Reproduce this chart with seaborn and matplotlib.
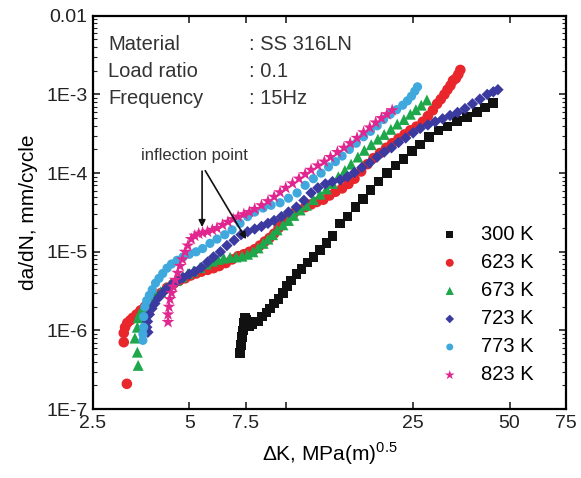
import numpy as np
import pandas as pd
import matplotlib
matplotlib.use("Agg")
from matplotlib import pyplot as plt
import seaborn as sns

# da/dN vs dK data
temps = ['300 K', '623 K', '673 K', '723 K', '773 K', '823 K']

dk_300 = [7.2, 7.25, 7.3, 7.35, 7.4, 7.45, 7.55, 7.7, 7.85, 8.0, 8.2, 8.45, 8.7, 8.95, 9.2,
          9.5, 9.8, 10.1, 10.4, 10.8, 11.2, 11.7, 12.2, 12.8, 13.4, 14.0, 14.8, 15.6, 16.5,
          17.4, 18.4, 19.5, 20.7, 22.0, 23.3, 24.8, 26.3, 28.0, 30.0, 32.0, 34.3, 36.8,
          39.5, 42.0, 44.5]
da_300 = [5.2e-7, 6.5e-7, 8.2e-7, 1.0e-6, 1.25e-6, 1.45e-6, 1.35e-6, 1.15e-6, 1.2e-6, 1.3e-6,
          1.3e-6, 1.5e-6, 1.7e-6, 1.9e-6, 2.2e-6, 2.5e-6, 3.0e-6, 3.7e-6, 4.3e-6, 5.2e-6,
          6.0e-6, 7.3e-6, 8.6e-6, 1.05e-5, 1.3e-5, 1.6e-5, 2.3e-5, 2.8e-5, 3.7e-5, 4.7e-5,
          6.1e-5, 7.8e-5, 1.0e-4, 1.25e-4, 1.5e-4, 1.9e-4, 2.3e-4, 2.9e-4, 3.5e-4, 3.9e-4,
          4.6e-4, 5.2e-4, 6.0e-4, 6.8e-4, 7.8e-4]

dk_623 = [3.19, 3.12, 3.12, 3.15, 3.2, 3.27, 3.33, 3.42, 3.52, 3.63, 3.77, 3.92, 4.08, 4.26,
          4.45, 4.65, 4.85, 5.05, 5.25, 5.45, 5.7, 5.95, 6.2, 6.5, 6.8, 7.1, 7.4, 7.7, 8.0,
          8.3, 8.6, 8.9, 9.2, 9.5, 9.8, 10.2, 10.6, 11.0, 11.5, 12.0, 12.5, 13.1, 13.7, 14.3,
          15.0, 15.7, 16.4, 17.2, 18.0, 18.8, 19.7, 20.6, 21.5, 22.5, 23.5, 24.5, 25.6, 26.8,
          27.8, 28.8, 29.7, 30.5, 31.3, 32.0, 32.7, 33.3, 34.0, 34.6, 35.1]
da_623 = [2.1e-7, 7.1e-7, 9.3e-7, 1.1e-6, 1.25e-6, 1.35e-6, 1.45e-6, 1.6e-6, 1.8e-6, 2.0e-6,
          2.25e-6, 2.6e-6, 3.0e-6, 3.5e-6, 3.9e-6, 4.3e-6, 4.6e-6, 5.0e-6, 5.3e-6, 5.6e-6,
          5.9e-6, 6.2e-6, 6.6e-6, 7.2e-6, 8.0e-6, 8.8e-6, 9.3e-6, 1.0e-5, 1.08e-5, 1.2e-5,
          1.35e-5, 1.5e-5, 1.7e-5, 2.0e-5, 2.4e-5, 2.8e-5, 3.1e-5, 3.4e-5, 3.7e-5, 4.0e-5,
          4.3e-5, 4.6e-5, 5.2e-5, 5.8e-5, 6.4e-5, 7.3e-5, 8.5e-5, 1.05e-4, 1.3e-4, 1.55e-4,
          1.8e-4, 2.1e-4, 2.4e-4, 2.75e-4, 3.1e-4, 3.5e-4, 3.9e-4, 4.5e-4, 5.3e-4, 6.3e-4,
          7.6e-4, 8.7e-4, 1.0e-3, 1.15e-3, 1.3e-3, 1.5e-3, 1.6e-3, 1.8e-3, 2.05e-3]

dk_673 = [3.46, 3.44, 3.38, 3.44, 3.46, 3.5, 3.58, 3.68, 3.8, 3.93, 4.07, 4.22, 4.38, 4.55,
          4.75, 4.95, 5.15, 5.4, 5.65, 5.9, 6.15, 6.4, 6.7, 7.0, 7.3, 7.6, 7.9, 8.2, 8.5, 8.8,
          9.1, 9.4, 9.8, 10.2, 10.6, 11.1, 11.6, 12.2, 12.8, 13.4, 14.0, 14.6, 15.3, 16.0,
          16.8, 17.6, 18.5, 19.4, 20.3, 21.3, 22.3, 23.4, 24.5, 25.5, 26.5, 27.6]
da_673 = [3.6e-7, 5.3e-7, 8.0e-7, 1.1e-6, 1.45e-6, 1.65e-6, 1.9e-6, 2.2e-6, 2.5e-6, 2.8e-6,
          3.1e-6, 3.5e-6, 3.9e-6, 4.3e-6, 4.8e-6, 5.3e-6, 5.7e-6, 6.3e-6, 7.0e-6, 7.6e-6,
          8.0e-6, 8.3e-6, 8.5e-6, 8.6e-6, 8.8e-6, 9.3e-6, 1.0e-5, 1.12e-5, 1.28e-5, 1.45e-5,
          1.65e-5, 1.9e-5, 2.2e-5, 2.5e-5, 2.9e-5, 3.4e-5, 3.9e-5, 4.6e-5, 5.4e-5, 6.3e-5,
          7.4e-5, 9.0e-5, 1.08e-4, 1.3e-4, 1.6e-4, 1.95e-4, 2.3e-4, 2.7e-4, 3.1e-4, 3.6e-4,
          4.2e-4, 4.8e-4, 5.6e-4, 6.4e-4, 7.3e-4, 8.5e-4]

dk_723 = [3.71, 3.68, 3.7, 3.75, 3.82, 3.9, 4.0, 4.12, 4.25, 4.4, 4.58, 4.78, 5.0, 5.2, 5.45,
          5.7, 5.95, 6.25, 6.55, 6.9, 7.25, 7.6, 8.0, 8.4, 8.8, 9.2, 9.7, 10.2, 10.8, 11.4,
          12.0, 12.6, 13.3, 14.0, 14.8, 15.6, 16.4, 17.3, 18.3, 19.3, 20.3, 21.4, 22.5, 23.7,
          25.0, 26.3, 27.8, 29.3, 30.9, 32.6, 34.4, 36.3, 38.3, 40.4, 42.6, 44.5, 46.0]
da_723 = [9.5e-7, 1.1e-6, 1.3e-6, 1.6e-6, 1.9e-6, 2.2e-6, 2.6e-6, 3.0e-6, 3.4e-6, 3.8e-6,
          4.2e-6, 4.7e-6, 5.2e-6, 5.6e-6, 6.3e-6, 7.4e-6, 8.6e-6, 1.0e-5, 1.2e-5, 1.4e-5,
          1.65e-5, 1.8e-5, 1.95e-5, 2.1e-5, 2.3e-5, 2.5e-5, 2.8e-5, 3.2e-5, 3.7e-5, 4.5e-5,
          5.6e-5, 6.5e-5, 7.3e-5, 7.8e-5, 8.2e-5, 9.0e-5, 1.02e-4, 1.18e-4, 1.35e-4, 1.6e-4,
          1.85e-4, 2.1e-4, 2.45e-4, 2.8e-4, 3.25e-4, 3.7e-4, 4.1e-4, 4.5e-4, 4.9e-4, 5.4e-4,
          5.9e-4, 6.6e-4, 7.6e-4, 8.7e-4, 1.0e-3, 1.08e-3, 1.15e-3]

dk_773 = [3.58, 3.58, 3.6, 3.6, 3.63, 3.68, 3.75, 3.83, 3.92, 4.02, 4.13, 4.26, 4.4, 4.58,
          4.78, 5.0, 5.25, 5.5, 5.8, 6.1, 6.45, 6.8, 7.2, 7.6, 8.0, 8.5, 9.0, 9.6, 10.2, 10.85,
          11.5, 12.2, 12.9, 13.6, 14.3, 15.0, 15.8, 16.6, 17.5, 18.4, 19.3, 20.2, 21.2, 22.2,
          23.2, 24.0, 24.7, 25.3, 25.8]
da_773 = [7.5e-7, 9.0e-7, 1.1e-6, 1.5e-6, 2.0e-6, 2.4e-6, 2.8e-6, 3.3e-6, 4.0e-6, 4.6e-6,
          5.3e-6, 6.2e-6, 7.0e-6, 7.8e-6, 8.6e-6, 9.3e-6, 1.0e-5, 1.1e-5, 1.28e-5, 1.45e-5,
          1.65e-5, 1.9e-5, 2.3e-5, 2.8e-5, 3.2e-5, 3.6e-5, 3.9e-5, 4.2e-5, 4.8e-5, 5.6e-5,
          7.0e-5, 8.5e-5, 1.0e-4, 1.2e-4, 1.4e-4, 1.65e-4, 2.0e-4, 2.4e-4, 2.9e-4, 3.4e-4,
          4.0e-4, 4.8e-4, 5.6e-4, 6.4e-4, 7.3e-4, 8.3e-4, 9.5e-4, 1.1e-3, 1.25e-3]

dk_823 = [4.29, 4.29, 4.32, 4.35, 4.4, 4.45, 4.52, 4.6, 4.68, 4.76, 4.85, 4.95, 5.07, 5.2,
          5.35, 5.5, 5.7, 5.9, 6.1, 6.35, 6.6, 6.85, 7.1, 7.4, 7.7, 8.0, 8.4, 8.8, 9.2, 9.6,
          10.0, 10.5, 11.0, 11.5, 12.0, 12.6, 13.2, 13.8, 14.5, 15.2, 15.9, 16.7, 17.5, 18.3,
          19.1, 19.9, 20.7, 21.5]
da_823 = [1.28e-6, 1.6e-6, 2.0e-6, 2.5e-6, 3.0e-6, 3.6e-6, 4.4e-6, 5.4e-6, 6.6e-6, 8.0e-6,
          1.0e-5, 1.2e-5, 1.45e-5, 1.6e-5, 1.7e-5, 1.75e-5, 1.8e-5, 1.9e-5, 2.0e-5, 2.2e-5,
          2.4e-5, 2.6e-5, 2.8e-5, 3.0e-5, 3.2e-5, 3.5e-5, 3.9e-5, 4.4e-5, 5.0e-5, 5.7e-5,
          6.5e-5, 7.4e-5, 8.5e-5, 9.7e-5, 1.1e-4, 1.25e-4, 1.4e-4, 1.6e-4, 1.85e-4, 2.1e-4,
          2.4e-4, 2.8e-4, 3.3e-4, 3.8e-4, 4.4e-4, 5.0e-4, 5.6e-4, 6.3e-4]

dk_all = [dk_300, dk_623, dk_673, dk_723, dk_773, dk_823]
da_all = [da_300, da_623, da_673, da_723, da_773, da_823]

colors = ['#111111', '#e8262b', '#1ea84b', '#3b3aa0', '#3fa8dd', '#e2268f']
markers = ['s', 'o', '^', 'D', 'o', '*']
sizes = [48, 58, 62, 34, 44, 95]

df = pd.concat([pd.DataFrame({'dK': x, 'dadN': y, 'T': t})
                for x, y, t in zip(dk_all, da_all, temps)], ignore_index=True)

plt.rcParams['font.family'] = ['Liberation Sans', 'DejaVu Sans']
plt.rcParams['mathtext.fontset'] = 'custom'
plt.rcParams['mathtext.rm'] = 'Liberation Sans'

fig = plt.figure(figsize=(5.81, 4.78), dpi=100)
ax = fig.add_axes([0.160, 0.144, 0.814, 0.823])

for t, c, m, s in zip(temps, colors, markers, sizes):
    sub = df[df['T'] == t]
    sns.scatterplot(data=sub, x='dK', y='dadN', color=c, marker=m, s=s,
                    edgecolor='none', linewidth=0, ax=ax, label=t)

ax.set_xscale('log')
ax.set_yscale('log')
ax.set_xlim(2.5, 75)
ax.set_ylim(1e-7, 1e-2)

ax.set_xticks([2.5, 5, 7.5, 10, 25, 50, 75])
ax.set_xticklabels(['2.5', '5', '7.5', '', '25', '50', '75'])
ax.xaxis.set_minor_locator(matplotlib.ticker.NullLocator())
ax.set_yticks([1e-7, 1e-6, 1e-5, 1e-4, 1e-3, 1e-2])
ax.set_yticklabels(['1E-7', '1E-6', '1E-5', '1E-4', '1E-3', '0.01'])
ax.yaxis.set_minor_locator(matplotlib.ticker.LogLocator(base=10, subs=np.arange(2, 10), numticks=20))
ax.yaxis.set_minor_formatter(matplotlib.ticker.NullFormatter())

ax.tick_params(which='both', direction='in', top=True, right=True, labelsize=14, colors='#222222')
ax.tick_params(which='major', length=5, width=1.2, pad=4)
ax.tick_params(which='minor', length=3, width=0.8)
for sp in ax.spines.values():
    sp.set_linewidth(1.6)

ax.set_xlabel(r'$\Delta$K, MPa(m)$^{0.5}$', fontsize=15, labelpad=6)
ax.set_ylabel('da/dN, mm/cycle', fontsize=15, labelpad=6)

# info block
info = [('Material', ': SS 316LN'), ('Load ratio', ': 0.1'), ('Frequency', ': 15Hz')]
for i, (k, v) in enumerate(info):
    yy = 0.926 - i * 0.068
    ax.text(0.032, yy, k, transform=ax.transAxes, fontsize=14.5, va='center', color='#333333')
    ax.text(0.33, yy, v, transform=ax.transAxes, fontsize=14.5, va='center', color='#333333')

ax.text(5.2, 1.66e-4, 'inflection point', fontsize=12, ha='center', va='center', color='#333333')
ax.annotate('', xy=(5.48, 1.9e-5), xytext=(5.48, 1.15e-4),
            arrowprops=dict(arrowstyle='-|>', color='#111111', lw=1.2, mutation_scale=10))
ax.annotate('', xy=(7.6, 1.35e-5), xytext=(5.55, 1.15e-4),
            arrowprops=dict(arrowstyle='-|>', color='#111111', lw=1.2, mutation_scale=10))

ax.legend(loc='lower right', bbox_to_anchor=(0.97, 0.017), frameon=False, fontsize=14.5,
          labelspacing=0.45, handletextpad=0.55, markerscale=0.75)

plt.savefig('out.png', dpi=100)
plt.close()
